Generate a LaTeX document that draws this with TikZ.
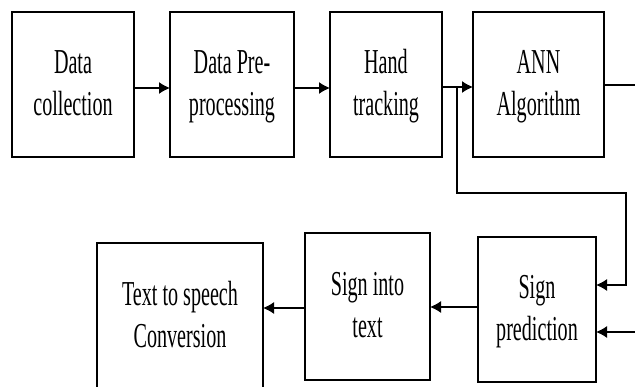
\documentclass[tikz,border=0pt]{standalone}
\usepackage{fontspec}
\setmainfont[FakeStretch=0.575]{Liberation Serif}
\usetikzlibrary{arrows.meta}
\newcommand\twolines[2]{\rule{0pt}{30pt}#1\\#2\rule[-9pt]{0pt}{9pt}}
\begin{document}
\begin{tikzpicture}[x=1pt,y=-1pt,
  blk/.style={draw=black,line width=1.3pt,inner sep=0pt,outer sep=0pt,align=center,
    font=\fontsize{35}{42}\selectfont},
  arr/.style={line width=1.3pt,-{Latex[length=11pt,width=12pt]}},
  ln/.style={line width=1.3pt}]
\useasboundingbox (0,0) rectangle (635,387);
\clip (0,0) rectangle (635,387);
\node[blk,minimum width=122pt,minimum height=145pt] (b1) at (73,84.5) {\twolines{Data}{collection}};
\node[blk,minimum width=124pt,minimum height=145pt] (b2) at (232,84.5) {\twolines{Data Pre-}{processing}};
\node[blk,minimum width=112pt,minimum height=145pt] (b3) at (386,84.5) {\twolines{Hand}{tracking}};
\node[blk,minimum width=131pt,minimum height=145pt] (b4) at (538.5,84.5) {\twolines{ANN}{Algorithm}};
\node[blk,minimum width=118pt,minimum height=145pt] (b5) at (537,309.5) {\twolines{Sign}{prediction}};
\node[blk,minimum width=125pt,minimum height=147pt] (b6) at (367.5,306.5) {\twolines{Sign into}{text}};
\node[blk,minimum width=166pt,minimum height=147pt] (b7) at (180,316.5) {\twolines{Text to speech}{Conversion}};
\coordinate (br) at (457,87);
\coordinate (rt) at (626,193);
\coordinate (out) at (635,85);
\coordinate (in2) at (635,332);
\draw[arr] (b1.east |- 0,88) -- (b2.west |- 0,88);
\draw[arr] (b2.east |- 0,88) -- (b3.west |- 0,88);
\draw[arr] (b3.east |- 0,87) -- (b4.west |- 0,87);
\draw[ln] (b4.east |- out) -- (out);
\draw[arr] (br) |- (rt) |- (b5.east |- 0,285);
\draw[arr] (in2) -- (b5.east |- in2);
\draw[arr] (b5.west |- 0,307) -- (b6.east |- 0,307);
\draw[arr] (b6.west |- 0,308) -- (b7.east |- 0,308);
\end{tikzpicture}
\end{document}
